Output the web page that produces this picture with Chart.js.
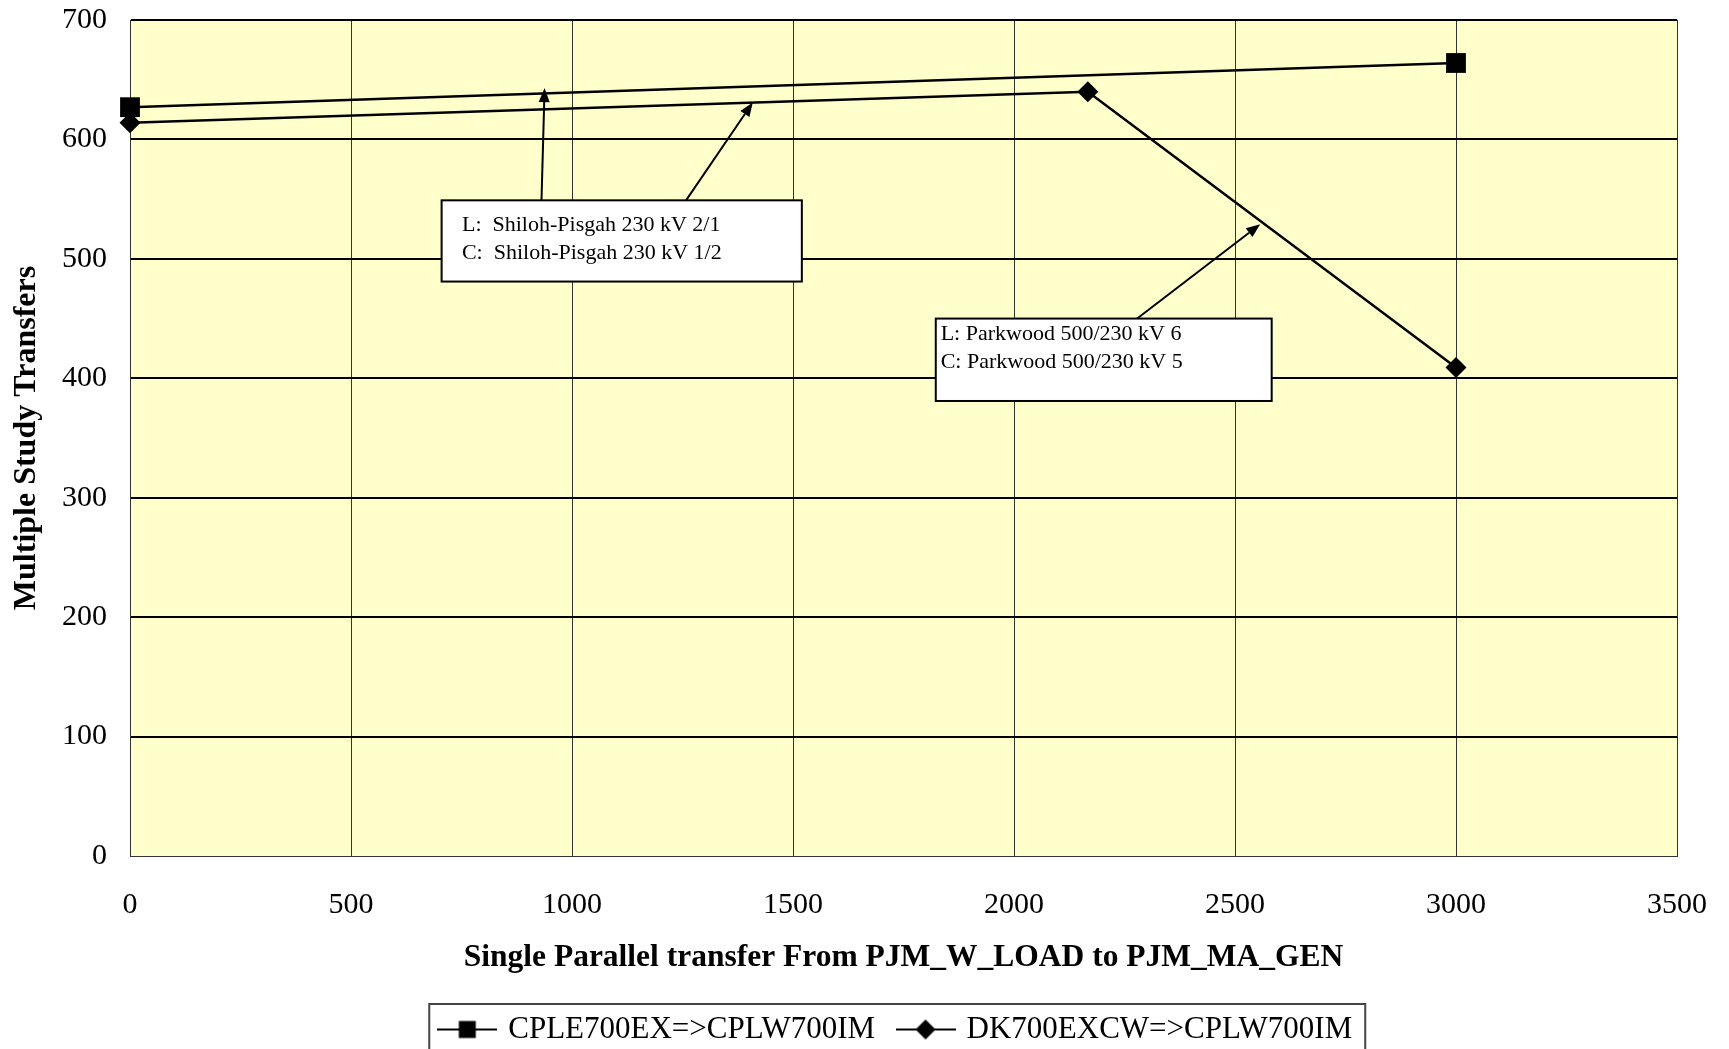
<!DOCTYPE html>
<html>
<head>
<meta charset="utf-8">
<script src="https://cdn.jsdelivr.net/npm/chart.js@4.4.0/dist/chart.umd.min.js"></script>
<style>
  html, body { margin: 0; padding: 0; background: #fff; }
  #wrap { width: 1729px; height: 1049px; }
</style>
</head>
<body>
<div id="wrap"><canvas id="chart" width="1729" height="1049"></canvas></div>
<script>
// ─── DATA ─────────────────────────────────────────────────────────────────────
const SERIES_NAMES = ['CPLE700EX=>CPLW700IM', 'DK700EXCW=>CPLW700IM'];
const CPLE_X = [0, 3000];
const CPLE_Y = [627, 664];
const DK_X = [0, 2167, 3000];
const DK_Y = [614, 640, 409];
const X_TICKS = [0, 500, 1000, 1500, 2000, 2500, 3000, 3500];
const Y_TICKS = [0, 100, 200, 300, 400, 500, 600, 700];
const X_TITLE = 'Single Parallel transfer From PJM_W_LOAD to PJM_MA_GEN';
const Y_TITLE = 'Multiple Study Transfers';

// callout boxes + arrows, placed in data units (x, y)
const CALLOUTS = [
  {
    box: [705, 549, 1520, 481],
    text: [751, 523, 500],
    lines: ['L:  Shiloh-Pisgah 230 kV 2/1', 'C:  Shiloh-Pisgah 230 kV 1/2'],
    arrows: [[931, 549, 938, 643], [1258, 549, 1409, 631]]
  },
  {
    box: [1823, 450, 2583, 381],
    text: [1834, 432, 409],
    lines: ['L: Parkwood 500/230 kV 6', 'C: Parkwood 500/230 kV 5'],
    arrows: [[2275, 449, 2557, 529]]
  }
];

const FONT = "'Liberation Serif', 'Times New Roman', serif";
const LEGEND_CENTER = 897;

function toPoints(xs, ys) {
  return xs.map((x, i) => ({ x, y: ys[i] }));
}

// little line+marker image for the legend
function markerImg(style) {
  const c = document.createElement('canvas');
  c.width = 60; c.height = 24;
  const g = c.getContext('2d');
  g.strokeStyle = '#000';
  g.lineWidth = 2;
  g.beginPath(); g.moveTo(0, 12); g.lineTo(60, 12); g.stroke();
  g.fillStyle = '#000';
  if (style === 'rect') {
    g.fillRect(21.5, 3.5, 17, 17);
  } else {
    g.beginPath();
    g.moveTo(30, 2); g.lineTo(40, 12); g.lineTo(30, 22); g.lineTo(20, 12);
    g.closePath(); g.fill();
  }
  return c;
}
const LEGEND_IMGS = [markerImg('rect'), markerImg('rectRot')];

// ─── PLUGINS ──────────────────────────────────────────────────────────────────
const plotBg = {
  id: 'plotBg',
  beforeDraw(chart) {
    const { ctx, chartArea: a } = chart;
    ctx.save();
    ctx.fillStyle = '#fff';
    ctx.fillRect(0, 0, chart.width, chart.height);
    ctx.fillStyle = '#FFFFCC';
    ctx.fillRect(a.left, a.top, a.right - a.left, a.bottom - a.top);
    ctx.restore();
  }
};

function arrow(ctx, x1, y1, x2, y2) {
  const ang = Math.atan2(y2 - y1, x2 - x1);
  const len = 14, half = 5.5;
  const bx = x2 - Math.cos(ang) * len, by = y2 - Math.sin(ang) * len;
  ctx.beginPath();
  ctx.moveTo(x1, y1); ctx.lineTo(bx, by);
  ctx.stroke();
  ctx.beginPath();
  ctx.moveTo(x2, y2);
  ctx.lineTo(bx + Math.sin(ang) * half, by - Math.cos(ang) * half);
  ctx.lineTo(bx - Math.sin(ang) * half, by + Math.cos(ang) * half);
  ctx.closePath();
  ctx.fill();
}

const callouts = {
  id: 'callouts',
  afterDatasetsDraw(chart) {
    const { ctx, scales: { x, y } } = chart;
    const px = v => x.getPixelForValue(v);
    const py = v => y.getPixelForValue(v);
    ctx.save();
    ctx.strokeStyle = '#000';
    ctx.fillStyle = '#000';
    ctx.lineWidth = 2;
    CALLOUTS.forEach(c => {
      c.arrows.forEach(a => arrow(ctx, px(a[0]), py(a[1]), px(a[2]), py(a[3])));
      const l = px(c.box[0]), t = py(c.box[1]), r = px(c.box[2]), b = py(c.box[3]);
      ctx.fillStyle = '#fff';
      ctx.fillRect(l, t, r - l, b - t);
      ctx.strokeRect(l, t, r - l, b - t);
      ctx.fillStyle = '#000';
      ctx.font = '22px ' + FONT;
      ctx.textBaseline = 'alphabetic';
      ctx.textAlign = 'left';
      c.lines.forEach((s, i) => ctx.fillText(s, px(c.text[0]), py(c.text[1 + i])));
    });
    ctx.restore();
  }
};

const legendFrame = {
  id: 'legendFrame',
  afterLayout(chart) {
    const lg = chart.legend;
    if (!lg) return;
    const dx = LEGEND_CENTER - (lg.left + lg.right) / 2;
    lg.left += dx; lg.right += dx;
    lg.top += 6; lg.bottom += 6;
  },
  afterDraw(chart) {
    const lg = chart.legend;
    if (!lg || !lg.lineWidths) return;
    const pad = lg.options.labels.padding;
    const lw = lg.lineWidths[0];
    const rowStart = (lg.left + pad + lg.right - lw) / 2;
    const l = rowStart - 12.5, r = rowStart + lw - pad + 13;
    const { ctx } = chart;
    ctx.save();
    ctx.strokeStyle = '#444';
    ctx.lineWidth = 2;
    ctx.strokeRect(l, 1004, r - l, 80);
    ctx.restore();
  }
};

// ─── CHART ────────────────────────────────────────────────────────────────────
const ctx = document.getElementById('chart');
new Chart(ctx, {
  type: 'scatter',
  data: {
    datasets: [
      {
        label: SERIES_NAMES[0],
        data: toPoints(CPLE_X, CPLE_Y),
        showLine: true,
        borderColor: '#000',
        borderWidth: 2.5,
        pointStyle: 'rect',
        pointRadius: 14,
        pointBackgroundColor: '#000',
        pointBorderWidth: 0,
        clip: false
      },
      {
        label: SERIES_NAMES[1],
        data: toPoints(DK_X, DK_Y),
        showLine: true,
        borderColor: '#000',
        borderWidth: 2.5,
        pointStyle: 'rectRot',
        pointRadius: 10.5,
        pointBackgroundColor: '#000',
        pointBorderWidth: 0,
        clip: false
      }
    ]
  },
  options: {
    responsive: false,
    animation: false,
    layout: { padding: { top: 20, right: 52, left: 0, bottom: 0 } },
    plugins: {
      legend: {
        position: 'bottom',
        labels: {
          usePointStyle: true,
          pointStyleWidth: 51,
          padding: 25,
          color: '#000',
          font: { family: FONT, size: 31 },
          generateLabels: () => SERIES_NAMES.map((name, i) => ({
            text: name,
            pointStyle: LEGEND_IMGS[i],
            fillStyle: '#000',
            strokeStyle: '#000',
            lineWidth: 0,
            hidden: false,
            datasetIndex: i
          }))
        }
      },
      tooltip: { enabled: false }
    },
    scales: {
      x: {
        type: 'linear',
        min: 0,
        max: 3500,
        afterBuildTicks: s => { s.ticks = X_TICKS.map(v => ({ value: v })); },
        afterFit: s => { s.height = 127; s.paddingLeft = 0; s.paddingRight = 0; },
        grid: { color: '#333', lineWidth: 1, drawTicks: false },
        border: { display: true, color: '#333', width: 1 },
        ticks: {
          color: '#000', padding: 31, maxRotation: 0,
          font: { family: FONT, size: 30 },
          callback: v => String(v)
        },
        title: {
          display: true,
          text: X_TITLE,
          color: '#000',
          font: { family: FONT, size: 31.5, weight: 'bold' },
          padding: { top: 0, bottom: 6 }
        }
      },
      y: {
        type: 'linear',
        min: 0,
        max: 700,
        afterBuildTicks: s => { s.ticks = Y_TICKS.map(v => ({ value: v })); },
        afterFit: s => { s.width = 130; s.paddingTop = 0; s.paddingBottom = 0; },
        grid: {
          color: c => (c.tick && c.tick.value === 0) ? '#333' : '#000',
          lineWidth: c => (c.tick && c.tick.value === 0) ? 1 : 2,
          drawTicks: false
        },
        border: { display: true, color: '#333', width: 1 },
        ticks: {
          color: '#000', padding: 23,
          font: { family: FONT, size: 30 },
          callback: v => String(v)
        },
        title: {
          display: true,
          text: Y_TITLE,
          color: '#000',
          font: { family: FONT, size: 32, weight: 'bold' },
          padding: { top: 8, bottom: 8 }
        }
      }
    }
  },
  plugins: [plotBg, callouts, legendFrame]
});
</script>
</body>
</html>
